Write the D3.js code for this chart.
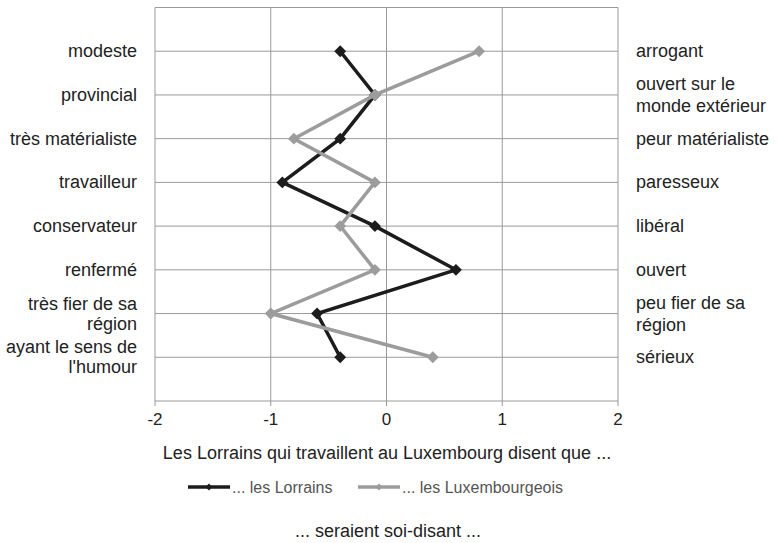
<!DOCTYPE html>
<html>
<head>
<meta charset="utf-8">
<script src="https://cdn.jsdelivr.net/npm/d3@7"></script>
<style>
  body { margin: 0; background: #fff; overflow: hidden; }
  text { font-family: "Liberation Sans", Arial, sans-serif; fill: #222; }
</style>
</head>
<body>
<div id="chart"></div>
<script>
// left / right poles of each scale
var leftLabels = [["modeste"], ["provincial"], ["très matérialiste"], ["travailleur"],
  ["conservateur"], ["renfermé"], ["très fier de sa", "région"], ["ayant le sens de", "l'humour"]];
var rightLabels = [["arrogant"], ["ouvert sur le", "monde extérieur"], ["peur matérialiste"], ["paresseux"],
  ["libéral"], ["ouvert"], ["peu fier de sa", "région"], ["sérieux"]];

var lorrains = [-0.4, -0.1, -0.4, -0.9, -0.1, 0.6, -0.6, -0.4];
var luxembourgeois = [0.8, -0.1, -0.8, -0.1, -0.4, -0.1, -1.0, 0.4];

var xTicks = [-2, -1, 0, 1, 2];

var series = [
  { name: "... les Lorrains", values: lorrains, color: "#1c1c1c" },
  { name: "... les Luxembourgeois", values: luxembourgeois, color: "#9c9c9c" }
];

var W = 777, H = 543;
var margin = { top: 7.5, left: 155, right: 159, bottom: 142 };
var width = W - margin.left - margin.right;
var height = H - margin.top - margin.bottom;

var svg = d3.select("#chart").append("svg")
  .attr("width", W).attr("height", H)
  .style("display", "block");

var g = svg.append("g").attr("transform", `translate(${margin.left},${margin.top})`);

var x = d3.scaleLinear().domain([-2, 2]).range([0, width]);
// rows sit on integer slots 1..8, with an empty slot at top and bottom
var y = d3.scaleLinear().domain([0, leftLabels.length + 1]).range([0, height]);

// grid
g.selectAll(".vgrid").data(xTicks).join("line")
  .attr("x1", d => x(d)).attr("x2", d => x(d))
  .attr("y1", 0).attr("y2", height + 5)
  .attr("stroke", "#9a9a9a").attr("stroke-width", 1);

g.selectAll(".hgrid").data(d3.range(0, leftLabels.length + 2)).join("line")
  .attr("x1", 0).attr("x2", width)
  .attr("y1", d => y(d)).attr("y2", d => y(d))
  .attr("stroke", "#9a9a9a").attr("stroke-width", 1);

// x tick labels
g.selectAll(".xlab").data(xTicks).join("text")
  .attr("x", d => x(d)).attr("y", height + 24)
  .attr("text-anchor", "middle")
  .style("font-size", "17px")
  .text(d => String(d));

// side labels
function drawLabels(labels, xpos, anchor, lh) {
  labels.forEach(function(lines, i) {
    var t = svg.append("text")
      .attr("x", xpos)
      .attr("text-anchor", anchor)
      .style("font-size", "18px");
    var y0 = margin.top + y(i + 1) - (lines.length - 1) * lh / 2 + 6;
    lines.forEach(function(l, j) {
      t.append("tspan").attr("x", xpos).attr("y", y0 + j * lh).text(l);
    });
  });
}
drawLabels(leftLabels, 137, "end", 20);
drawLabels(rightLabels, 636, "start", 22);

// lines + markers
var line = d3.line().x(d => x(d)).y((d, i) => y(i + 1));
var diamond = d3.symbol().type(d3.symbolDiamond2).size(90);

series.forEach(function(s) {
  g.append("path").datum(s.values)
    .attr("d", line)
    .attr("fill", "none")
    .attr("stroke", s.color)
    .attr("stroke-width", 3.5)
    .attr("stroke-linejoin", "miter");
  g.selectAll(null).data(s.values).join("path")
    .attr("d", diamond)
    .attr("transform", (d, i) => `translate(${x(d)},${y(i + 1)})`)
    .attr("fill", s.color);
});

// axis title
svg.append("text")
  .attr("x", 387).attr("y", 459)
  .attr("text-anchor", "middle")
  .style("font-size", "18px")
  .text("Les Lorrains qui travaillent au Luxembourg disent que ...");

// legend
var legX = [188, 358];
series.forEach(function(s, i) {
  var lg = svg.append("g").attr("transform", `translate(${legX[i]},487)`);
  lg.append("line").attr("x1", 0).attr("x2", 42)
    .attr("stroke", s.color).attr("stroke-width", 3.5);
  lg.append("path").attr("d", d3.symbol().type(d3.symbolDiamond2).size(30))
    .attr("transform", "translate(21,0)").attr("fill", s.color);
  lg.append("text").attr("x", 44).attr("y", 5.5)
    .style("font-size", "16px").style("fill", "#555")
    .text(s.name);
});

svg.append("text")
  .attr("x", 388).attr("y", 537)
  .attr("text-anchor", "middle")
  .style("font-size", "18px")
  .text("... seraient soi-disant ...");
</script>
</body>
</html>
